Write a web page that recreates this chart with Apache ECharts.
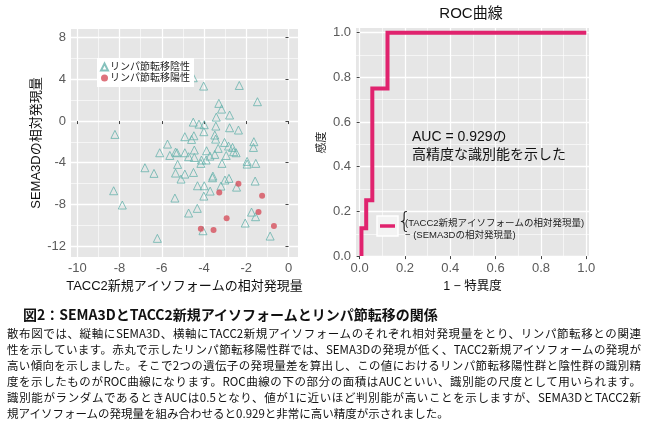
<!DOCTYPE html>
<html>
<head>
<meta charset="utf-8">
<script src="https://cdn.jsdelivr.net/npm/echarts@6/dist/echarts.min.js"></script>
<style>
html, body { margin: 0; padding: 0; background: #fff; }
#chart { position: absolute; left: 0; top: 0; width: 650px; height: 421px; }
#caption { position: absolute; left: 7px; top: 305px; width: 634px; font-family: "Noto Sans CJK JP"; color: #111; }
#caption .title { font-weight: bold; font-size: 14px; line-height: 18px; height: 18px; margin-left: 16px; margin-bottom: 2px; }
#caption .line { font-size: 11.5px; line-height: 16px; height: 16px; text-align: justify; text-align-last: justify; }
#caption .line.last { text-align-last: left; }
</style>
</head>
<body>
<div id="chart"></div>
<div id="caption">
  <div class="title">図2：SEMA3DとTACC2新規アイソフォームとリンパ節転移の関係</div>
  <div class="line">散布図では、縦軸にSEMA3D、横軸にTACC2新規アイソフォームのそれぞれ相対発現量をとり、リンパ節転移との関連</div>
  <div class="line">性を示しています。赤丸で示したリンパ節転移陽性群では、SEMA3Dの発現が低く、TACC2新規アイソフォームの発現が</div>
  <div class="line">高い傾向を示しました。そこで2つの遺伝子の発現量差を算出し、この値におけるリンパ節転移陽性群と陰性群の識別精</div>
  <div class="line">度を示したものがROC曲線になります。ROC曲線の下の部分の面積はAUCといい、識別能の尺度として用いられます。</div>
  <div class="line">識別能がランダムであるときAUCは0.5となり、値が1に近いほど判別能が高いことを示しますが、SEMA3DとTACC2新</div>
  <div class="line last">規アイソフォームの発現量を組み合わせると0.929と非常に高い精度が示されました。</div>
</div>
<script>
// scatter: lymph node metastasis negative (triangles)
const negX = [-4.51, -4.02, -2.33, -1.47, -3.30, -3.17, -3.42, -2.79, -4.51, -4.24,
  -3.99, -3.44, -2.79, -2.37, -4.01, -8.22, -4.48, -4.91, -3.49, -3.45,
  -4.59, -3.03, -1.64, -5.73, -2.84, -3.33, -2.65, -1.66, -4.46, -3.88,
  -2.60, -6.10, -5.35, -5.28, -4.91, -2.48, -5.62, -3.72, -3.49, -2.95,
  -4.46, -4.73, -4.12, -3.90, -4.15, -3.15, -1.96, -1.96, -1.55, -5.25,
  -6.80, -6.37, -5.35, -4.91, -4.50, -3.58, -3.60, -5.09, -2.82, -3.01,
  -1.58, -4.31, -3.99, -3.20, -2.46, -8.28, -3.71, -4.01, -5.38, -7.87,
  -4.32, -4.73, -1.75, -1.56, -2.05, -4.05, -0.87, -6.21]
const negY = [4.16, 3.36, 3.42, 1.86, 1.70, 1.15, 0.38, 0.58, -0.10, -0.29,
  -0.35, -0.48, -0.64, -0.86, -1.02, -1.28, -1.41, -1.50, -1.34, -1.73,
  -1.76, -2.05, -1.98, -2.21, -2.40, -2.62, -2.53, -2.53, -2.78, -2.85,
  -2.94, -3.04, -2.98, -3.04, -3.04, -3.04, -3.30, -3.36, -3.20, -3.30,
  -3.49, -3.42, -3.74, -3.74, -4.06, -4.06, -3.87, -4.13, -4.06, -4.16,
  -4.48, -5.02, -4.99, -5.09, -4.93, -5.28, -5.44, -5.57, -5.50, -5.66,
  -5.76, -6.21, -6.21, -6.24, -6.34, -6.69, -6.72, -7.20, -7.39, -8.06,
  -8.38, -8.83, -8.74, -9.18, -9.79, -10.53, -11.04, -11.26]

// scatter: lymph node metastasis positive (red dots)
const posX = [-2.37, -3.28, -1.25, -1.42, -2.93, -0.69, -4.15, -3.55]
const posY = [-6.02, -6.85, -7.17, -8.74, -9.34, -10.08, -10.34, -10.46]

// ROC curve (1 - specificity, sensitivity)
const rocFpr = [0.008, 0.008, 0.029, 0.029, 0.056, 0.056, 0.123, 0.123, 1.0]
const rocTpr = [0, 0.125, 0.125, 0.25, 0.25, 0.75, 0.75, 1.0, 1.0]

const scatterXTicks = [-10, -8, -6, -4, -2, 0]
const scatterXMinor = [-9, -7, -5, -3, -1]
const scatterYTicks = [-12, -8, -4, 0, 4, 8]
const scatterYMinor = [-10, -6, -2, 2, 6]
const rocTicks = [0, 0.2, 0.4, 0.6, 0.8, 1.0]
const rocMinor = [0.1, 0.3, 0.5, 0.7, 0.9]

const FONT = '"Liberation Sans", "Noto Sans CJK JP", sans-serif'
const PANEL = '#E6E6E6'
const TEAL = '#68B3AC'
const RED = '#D6505C'
const PINK = '#E0236E'

const chart = echarts.init(document.getElementById('chart'))

const majorAxis = (grid, min, max, ticks, fmt) => ({
  type: 'value',
  gridIndex: grid,
  min: min,
  max: max,
  axisLine: { show: false },
  axisTick: {
    show: true,
    length: 3,
    customValues: ticks,
    lineStyle: { color: '#444', width: 1 }
  },
  axisLabel: {
    customValues: ticks,
    color: '#5a5a5a',
    fontSize: 13,
    fontFamily: FONT,
    margin: 5,
    formatter: fmt
  },
  splitLine: {
    show: true,
    lineStyle: { color: '#ffffff', width: 1.3 }
  }
})

const minorAxis = (grid, min, max, ticks) => ({
  type: 'value',
  gridIndex: grid,
  min: min,
  max: max,
  axisLine: { show: false },
  axisTick: { show: false, customValues: ticks },
  axisLabel: { show: false, customValues: ticks },
  splitLine: {
    show: true,
    lineStyle: { color: '#ffffff', width: 0.6 }
  }
})

const rocFmt = (v) => v.toFixed(1)

const sx = majorAxis(0, -10.3, 0.45, scatterXTicks)
sx.name = 'TACC2新規アイソフォームの相対発現量'
sx.nameLocation = 'middle'
sx.nameGap = 21
sx.nameTextStyle = { color: '#111', fontSize: 13, fontFamily: FONT }

const sy = majorAxis(0, -13.05, 8.84, scatterYTicks)
sy.name = 'SEMA3Dの相対発現量'
sy.nameLocation = 'middle'
sy.nameGap = 24
sy.nameTextStyle = { color: '#111', fontSize: 13, fontFamily: FONT }

const rx = majorAxis(1, -0.016, 1.012, rocTicks, rocFmt)
rx.name = '1 − 特異度'
rx.nameLocation = 'middle'
rx.nameGap = 23
rx.nameTextStyle = { color: '#111', fontSize: 12.5, fontFamily: FONT }

const ry = majorAxis(1, -0.004, 1.021, rocTicks, rocFmt)
ry.name = '感度'
ry.nameLocation = 'middle'
ry.nameGap = 29
ry.nameTextStyle = { color: '#111', fontSize: 11, fontFamily: FONT }

const option = {
  animation: false,
  backgroundColor: '#ffffff',

  grid: [
    { left: 71, top: 29, width: 227, height: 228, show: true, backgroundColor: PANEL, borderWidth: 0 },
    { left: 356, top: 28, width: 233, height: 229, show: true, backgroundColor: PANEL, borderWidth: 0 }
  ],

  xAxis: [
    sx,
    minorAxis(0, -10.3, 0.45, scatterXMinor),
    rx,
    minorAxis(1, -0.016, 1.012, rocMinor)
  ],

  yAxis: [
    sy,
    minorAxis(0, -13.05, 8.84, scatterYMinor),
    ry,
    minorAxis(1, -0.004, 1.021, rocMinor)
  ],

  legend: {
    data: ['リンパ節転移陰性', 'リンパ節転移陽性'],
    orient: 'vertical',
    left: 97,
    top: 58,
    backgroundColor: '#ffffff',
    padding: [4, 4, 4, 3],
    itemGap: 1,
    itemWidth: 7,
    itemHeight: 7,
    textStyle: { color: '#222', fontSize: 10, fontFamily: FONT, padding: [0, 0, 0, -3] }
  },

  graphic: [
    {
      type: 'text',
      z: 100,
      x: 471,
      y: 6,
      style: { text: 'ROC曲線', fill: '#111', fontSize: 15, fontFamily: FONT, align: 'center' }
    },
    {
      type: 'text',
      z: 100,
      x: 412,
      y: 128,
      style: {
        text: 'AUC = 0.929の\n高精度な識別能を示した',
        fill: '#111',
        fontSize: 14,
        lineHeight: 18,
        fontFamily: FONT
      }
    },
    {
      type: 'rect',
      z: 100,
      shape: { x: 377, y: 216, width: 21, height: 20 },
      style: { fill: '#F3F3F3', stroke: '#ffffff', lineWidth: 1.5 }
    },
    {
      type: 'line',
      z: 101,
      shape: { x1: 380, y1: 226, x2: 395, y2: 226 },
      style: { stroke: PINK, lineWidth: 3.5 }
    },
    {
      type: 'text',
      z: 100,
      x: 397,
      y: 212,
      style: { text: '{', fill: '#222', fontSize: 23, fontFamily: '"DejaVu Sans"', fontWeight: 'lighter' }
    },
    {
      type: 'text',
      z: 100,
      x: 405,
      y: 217,
      style: {
        text: '(TACC2新規アイソフォームの相対発現量)\n− (SEMA3Dの相対発現量)',
        fill: '#222',
        fontSize: 9.5,
        lineHeight: 12,
        fontFamily: FONT
      }
    }
  ],

  series: [
    {
      name: 'リンパ節転移陰性',
      type: 'scatter',
      xAxisIndex: 0,
      yAxisIndex: 0,
      symbol: 'triangle',
      symbolSize: 8,
      itemStyle: { color: 'rgba(0,0,0,0)', borderColor: TEAL, borderWidth: 1 },
      data: negX.map((x, i) => [x, negY[i]])
    },
    {
      name: 'リンパ節転移陽性',
      type: 'scatter',
      xAxisIndex: 0,
      yAxisIndex: 0,
      symbol: 'circle',
      symbolSize: 6,
      itemStyle: { color: RED },
      data: posX.map((x, i) => [x, posY[i]])
    },
    {
      name: 'ROC',
      type: 'line',
      xAxisIndex: 2,
      yAxisIndex: 2,
      showSymbol: false,
      lineStyle: { color: PINK, width: 4, join: 'miter' },
      data: rocFpr.map((x, i) => [x, rocTpr[i]])
    }
  ]
}

chart.setOption(option)
</script>
</body>
</html>
